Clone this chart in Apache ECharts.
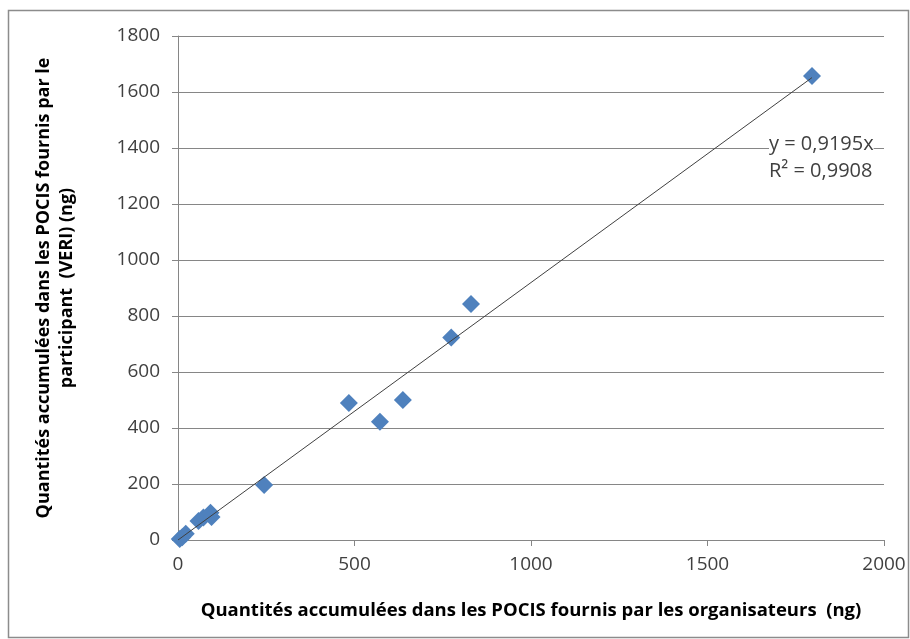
<!DOCTYPE html>
<html>
<head>
<meta charset="utf-8">
<script src="https://cdn.jsdelivr.net/npm/echarts@6/dist/echarts.min.js"></script>
<style>
  html, body { margin: 0; padding: 0; background: #fff; }
  #chart { width: 910px; height: 639px; }
</style>
</head>
<body>
<div id="chart"></div>
<script>
// Quantités accumulées (ng): organisateurs (x) vs participant VERI (y)
const organisateurs = [5, 12, 22, 58, 72, 92, 95, 244, 484, 572, 637, 774, 830, 1796];
const participant   = [4, 10, 22, 68, 80, 97, 82, 196, 489, 422, 500, 723, 843, 1657];

// Linear trend through the origin, as printed on the chart
const slope = 0.9195;
const r2Text = '0,9908';
const slopeText = '0,9195';

const xTicks = [0, 500, 1000, 1500, 2000];
const yTicks = [0, 200, 400, 600, 800, 1000, 1200, 1400, 1600, 1800];

const points = organisateurs.map((x, i) => [x, participant[i]]);
const xMaxData = Math.max(...organisateurs);
const trend = [[0, 0], [xMaxData, slope * xMaxData]];

const font = 'Open Sans, sans-serif';
const chart = echarts.init(document.getElementById('chart'), null, { renderer: 'canvas' });

chart.setOption({
  backgroundColor: '#fff',
  animation: false,
  graphic: [
    {
      type: 'rect',
      shape: { x: 8.5, y: 10.5, width: 900, height: 627 },
      style: { fill: 'none', stroke: '#8c8c8c', lineWidth: 1.5 },
      z: -1
    },
    {
      type: 'text',
      left: 769, top: 131,
      style: {
        text: 'y = ' + slopeText + 'x\nR² = ' + r2Text,
        font: '20px ' + font,
        fill: '#404040',
        lineHeight: 27,
        backgroundColor: '#fff'
      },
      z: 10
    }
  ],
  grid: { left: 178, right: 26, top: 36, bottom: 99, containLabel: false },
  xAxis: {
    type: 'value',
    min: xTicks[0], max: xTicks[xTicks.length - 1], interval: 500,
    name: 'Quantités accumulées dans les POCIS fournis par les organisateurs  (ng)',
    nameLocation: 'middle', nameGap: 61,
    nameTextStyle: { fontFamily: font, fontSize: 18.5, fontWeight: 'bold', color: '#000' },
    axisLine: { show: true, lineStyle: { color: '#868686', width: 1 } },
    axisTick: { show: true, length: 6, lineStyle: { color: '#868686' } },
    axisLabel: { fontFamily: font, fontSize: 19, color: '#404040', margin: 15, formatter: v => String(v) },
    splitLine: { show: false }
  },
  yAxis: {
    type: 'value',
    min: yTicks[0], max: yTicks[yTicks.length - 1], interval: 200,
    name: 'Quantités accumulées dans les POCIS fournis par le\nparticipant  (VERI) (ng)',
    nameLocation: 'middle', nameGap: 100,
    nameTextStyle: { fontFamily: font, fontSize: 18, fontWeight: 'bold', color: '#000', lineHeight: 23 },
    axisLine: { show: true, lineStyle: { color: '#868686', width: 1 } },
    axisTick: { show: true, length: 6, lineStyle: { color: '#868686' } },
    axisLabel: { fontFamily: font, fontSize: 19, color: '#404040', margin: 18, formatter: v => String(v) },
    splitLine: { show: true, lineStyle: { color: '#868686', width: 1 } }
  },
  series: [
    {
      type: 'line',
      data: trend,
      showSymbol: false,
      lineStyle: { color: '#404040', width: 1 },
      z: 3
    },
    {
      type: 'scatter',
      data: points,
      symbol: 'diamond',
      symbolSize: [18, 18],
      itemStyle: { color: '#4F81BD', opacity: 1 },
      z: 2
    }
  ]
});
</script>
</body>
</html>
